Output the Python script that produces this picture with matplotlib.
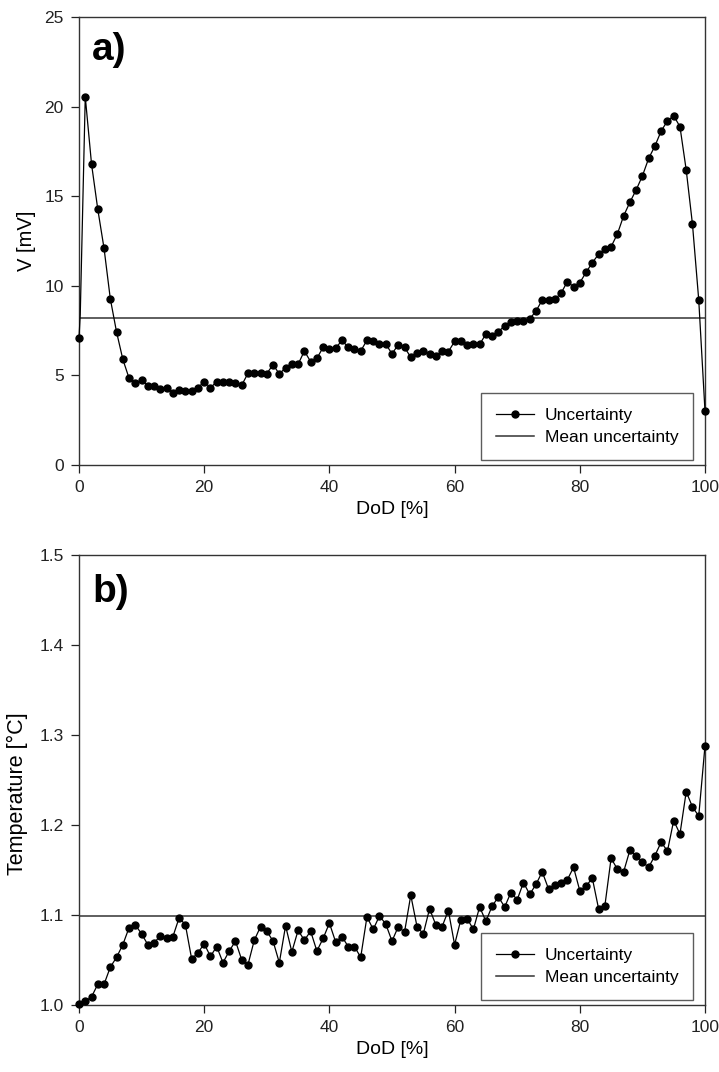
import matplotlib
matplotlib.use("Agg")
import matplotlib.pyplot as plt
import numpy as np

plt.rcParams['font.family'] = ['Liberation Sans', 'DejaVu Sans']

# ---- Data ----
dod_a = [0, 0.2] + list(range(1, 101))
volt_unc = [7.1, 8.4,
            20.55, 16.8, 14.27, 12.09, 9.28, 7.42, 5.9, 4.84, 4.56, 4.73,
            4.43, 4.43, 4.22, 4.28, 4.04, 4.19, 4.13, 4.13, 4.31, 4.65,
            4.31, 4.65, 4.65, 4.65, 4.56, 4.46, 5.12, 5.12, 5.12, 5.1,
            5.6, 5.08, 5.43, 5.62, 5.62, 6.36, 5.77, 5.95, 6.57, 6.49,
            6.51, 6.96, 6.57, 6.46, 6.36, 6.96, 6.94, 6.75, 6.75, 6.21,
            6.71, 6.57, 6.01, 6.23, 6.38, 6.21, 6.08, 6.36, 6.32, 6.9,
            6.92, 6.71, 6.73, 6.73, 7.31, 7.2, 7.44, 7.77, 7.96, 8.05,
            8.05, 8.15, 8.59, 9.21, 9.21, 9.25, 9.58, 10.23, 9.95, 10.17,
            10.75, 11.29, 11.76, 12.05, 12.18, 12.89, 13.9, 14.66, 15.35, 16.13,
            17.11, 17.8, 18.64, 19.2, 19.49, 18.88, 16.46, 13.43, 9.21, 3.01]
volt_mean = 8.22

dod_b = list(range(0, 101))
temp_unc = [1.001, 1.004, 1.009, 1.023, 1.023, 1.042, 1.053, 1.067, 1.086, 1.089,
            1.079, 1.067, 1.069, 1.077, 1.074, 1.076, 1.097, 1.089, 1.051, 1.058,
            1.068, 1.054, 1.065, 1.047, 1.060, 1.071, 1.050, 1.045, 1.072, 1.087,
            1.082, 1.071, 1.047, 1.088, 1.059, 1.083, 1.072, 1.082, 1.060, 1.074,
            1.091, 1.070, 1.076, 1.065, 1.065, 1.053, 1.098, 1.084, 1.099, 1.090,
            1.071, 1.087, 1.081, 1.122, 1.087, 1.079, 1.107, 1.089, 1.087, 1.105,
            1.067, 1.095, 1.096, 1.084, 1.109, 1.093, 1.110, 1.120, 1.109, 1.125,
            1.117, 1.136, 1.123, 1.134, 1.148, 1.129, 1.133, 1.136, 1.139, 1.153,
            1.127, 1.132, 1.141, 1.107, 1.110, 1.163, 1.151, 1.148, 1.172, 1.166,
            1.159, 1.153, 1.166, 1.181, 1.171, 1.205, 1.190, 1.237, 1.220, 1.210,
            1.288]
temp_mean = 1.099

x_ticks = [0, 20, 40, 60, 80, 100]
ya_ticks = [0, 5, 10, 15, 20, 25]
yb_ticks = [1.0, 1.1, 1.2, 1.3, 1.4, 1.5]

fig = plt.figure(figsize=(7.19, 10.72), dpi=100)
W, H = 719, 1072
def rect(l, t, r, b):
    return [l / W, 1 - b / H, (r - l) / W, (b - t) / H]

ax_a = fig.add_axes(rect(79, 17, 705, 465))
ax_b = fig.add_axes(rect(79, 555, 705, 1005))

def style(ax, yticks, ylabel, ylim, panel, ylab_size, ylab_xy, panel_y):
    ax.set_xlim(0, 100)
    ax.set_ylim(*ylim)
    ax.set_xticks(x_ticks)
    ax.set_yticks(yticks)
    ax.tick_params(direction='out', length=6, width=0.9, labelsize=12.5,
                   colors='#222222', top=False, right=False, pad=5)
    for s in ax.spines.values():
        s.set_linewidth(1.0)
        s.set_color('#333333')
    ax.set_xlabel('DoD [%]', fontsize=14, labelpad=4)
    ax.set_ylabel(ylabel, fontsize=ylab_size)
    ax.yaxis.set_label_coords(*ylab_xy)
    ax.text(0.021, panel_y, panel, transform=ax.transAxes, fontsize=28,
            fontweight='bold', va='baseline', ha='left')
    leg = ax.legend(loc='lower right', bbox_to_anchor=(0.981, 0.011),
                    fontsize=12.5, frameon=True, fancybox=False,
                    edgecolor='#333333', numpoints=1, handlelength=2.2,
                    handletextpad=0.6, borderpad=0.85, labelspacing=0.4,
                    borderaxespad=0)
    leg.get_frame().set_linewidth(1.0)

ax_a.plot(dod_a, volt_unc, '-', color='black', lw=0.9, marker='o', ms=5,
          markevery=[0] + list(range(2, len(dod_a))), clip_on=False,
          zorder=3, label='Uncertainty')
ax_a.axhline(volt_mean, color='#333333', lw=1.1, label='Mean uncertainty')
style(ax_a, ya_ticks, 'V [mV]', (0, 25), 'a)', 14.5, (-0.068, 0.5), 0.904)
ax_a.set_yticklabels([str(v) for v in ya_ticks])

ax_b.plot(dod_b, temp_unc, '-', color='black', lw=0.9, marker='o', ms=5,
          clip_on=False, zorder=3, label='Uncertainty')
ax_b.axhline(temp_mean, color='#333333', lw=1.1, label='Mean uncertainty')
style(ax_b, yb_ticks, 'Temperature [°C]', (1.0, 1.5), 'b)', 15.5,
      (-0.082, 0.47), 0.896)
ax_b.set_yticklabels([f'{v:.1f}' for v in yb_ticks])

fig.savefig('out.png', dpi=100)
